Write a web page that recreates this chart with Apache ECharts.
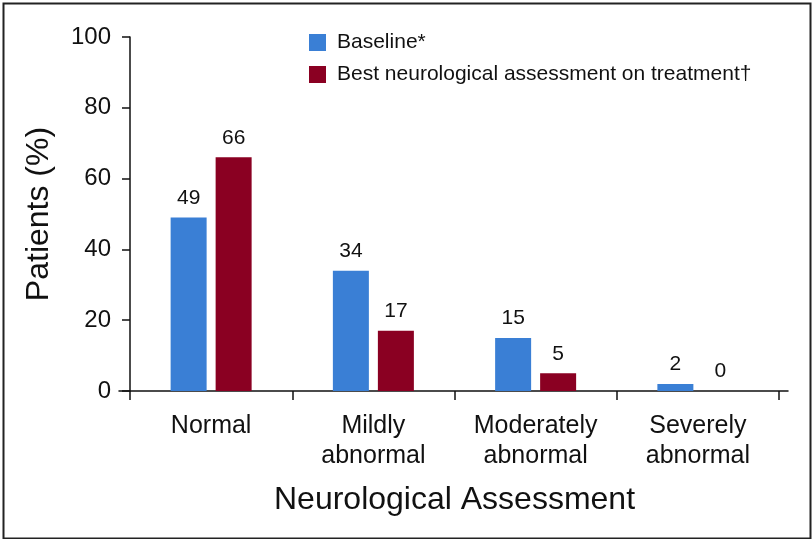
<!DOCTYPE html>
<html><head><meta charset="utf-8">
<script src="https://cdn.jsdelivr.net/npm/echarts@6/dist/echarts.min.js"></script>
<style>html,body{margin:0;padding:0;background:#fff}#c{width:812px;height:539px}</style>
</head><body><div id="c"></div>
<script>
const categories = ['Normal', 'Mildly\nabnormal', 'Moderately\nabnormal', 'Severely\nabnormal'];
const baseline = [49, 34, 15, 2];
const bestOnTreatment = [66, 17, 5, 0];
const seriesNames = ['Baseline*', 'Best neurological assessment on treatment\u2020'];
const yTicks = [0, 20, 40, 60, 80, 100];

const REG = '"Liberation Sans", Arial, sans-serif';
const chart = echarts.init(document.getElementById('c'), null, {renderer: 'canvas'});
chart.setOption({
  animation: false,
  backgroundColor: '#fff',
  graphic: [{type: 'rect', left: 1, top: 1, shape: {width: 807, height: 535}, style: {fill: 'none', stroke: '#222', lineWidth: 2}, silent: true}],
  legend: {
    orient: 'vertical', left: 304, top: 27, itemWidth: 17, itemHeight: 17, itemGap: 11,
    icon: 'rect',
    textStyle: {fontFamily: REG, fontSize: 21, color: '#111', padding: [0, 0, 0, 6]},
    data: seriesNames
  },
  grid: [
    {left: 130, right: 33, top: 37, bottom: 148},
    {left: 119, right: 24, top: 37, bottom: 148}
  ],
  xAxis: [{
    type: 'category', data: categories, gridIndex: 0,
    axisLine: {show: false},
    axisTick: {show: true, length: 9, lineStyle: {color: '#111', width: 1.5}},
    axisLabel: {fontFamily: REG, fontSize: 25, color: '#111', margin: 20, lineHeight: 30},
    name: 'Neurological Assessment', nameLocation: 'middle', nameGap: 93,
    nameTextStyle: {fontFamily: REG, fontSize: 32, color: '#111'}
  }, {
    type: 'value', gridIndex: 1, min: 0, max: 1,
    axisLine: {show: true, lineStyle: {color: '#111', width: 1.5}},
    axisTick: {show: false}, axisLabel: {show: false}, splitLine: {show: false}
  }],
  yAxis: [{
    type: 'value', gridIndex: 0, min: 0, max: 100, interval: 20,
    axisLine: {show: true, lineStyle: {color: '#111', width: 1.5}},
    axisTick: {show: true, length: 8, lineStyle: {color: '#111', width: 1.5}},
    axisLabel: {fontFamily: REG, fontSize: 24, color: '#111', margin: 19,
      formatter: v => yTicks.includes(v) ? String(v) : ''},
    splitLine: {show: false},
    name: 'Patients (%)', nameLocation: 'middle', nameGap: 75,
    nameTextStyle: {fontFamily: REG, fontSize: 32, color: '#111'}
  }, {
    type: 'value', gridIndex: 1, show: false
  }],
  series: [{
    name: seriesNames[0], type: 'bar', data: baseline, barWidth: 36, barGap: '25%',
    itemStyle: {color: '#3a7fd5'},
    label: {show: true, position: 'top', distance: 9, fontFamily: REG, fontSize: 21, color: '#111'}
  }, {
    name: seriesNames[1], type: 'bar', data: bestOnTreatment, barWidth: 36, barGap: '25%',
    itemStyle: {color: '#8a0022'},
    label: {show: true, position: 'top', distance: 9, fontFamily: REG, fontSize: 21, color: '#111'}
  }]
});
</script></body></html>
